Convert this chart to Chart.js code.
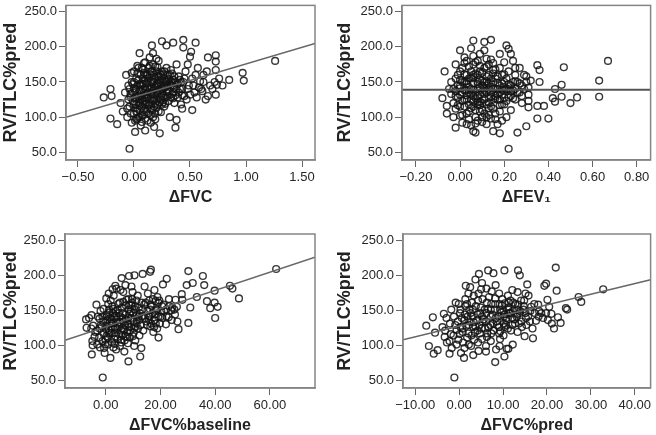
<!DOCTYPE html>
<html>
<head>
<meta charset="utf-8">
<script src="https://cdn.jsdelivr.net/npm/chart.js@4.4.0/dist/chart.umd.min.js"></script>
<style>
  html, body { margin: 0; padding: 0; background: #fff; }
  #wrap { position: relative; width: 656px; height: 435px; }
  .panel { position: absolute; }
</style>
</head>
<body>
<div id="wrap">
  <div class="panel" style="left:0;top:0;width:328px;height:215px"><canvas id="c1"></canvas></div>
  <div class="panel" style="left:330px;top:0;width:326px;height:215px"><canvas id="c2"></canvas></div>
  <div class="panel" style="left:0;top:215px;width:328px;height:220px"><canvas id="c3"></canvas></div>
  <div class="panel" style="left:330px;top:215px;width:326px;height:220px"><canvas id="c4"></canvas></div>
</div>
<script>
// ---- data ----
const yTicks = [50, 100, 150, 200, 250];
const yRange = [39, 259];

// RV/TLC%pred vs ΔFVC
const fvcTicks = [-0.5, 0, 0.5, 1.0, 1.5];
const fvcRange = [-0.607, 1.616];
const fvcFit = [128.4, 47.3]; // intercept, slope
const fvcPts = [
  [-0.04,55],[1.26,180],[0.97,163],[0.98,152],[0.85,153],[0.73,188],[0.73,179],[0.73,167],[0.73,132],[0.74,146],
  [0.76,155],[0.66,185],[0.55,206],[0.44,210],[0.35,206],[0.44,199],[0.25,208],[0.29,202],[0.51,193],[0.50,186],
  [0.52,110],[0.43,112],[0.38,96],[0.37,85],[0.23,77],[0.18,86],[0.10,81],[0.01,79],[-0.27,128],[-0.21,140],
  [-0.20,130],[-0.21,98],[-0.15,90],[-0.07,160],[0.05,191],[0.16,202],[0.17,191],[0.59,151],[0.61,137],[0.66,130],
  [0.79,145],[0.70,140],[0.62,160],[0.57,170],[0.48,175],
  [-0.12,120],[-0.10,108],[-0.08,135],[-0.06,100],[-0.05,145],[-0.04,115],[-0.03,128],[-0.02,92],[0.00,150],[0.00,105],
  [0.01,138],[0.02,118],[0.03,162],[0.03,98],[0.04,130],[0.05,110],[0.06,145],[0.06,88],[0.07,170],[0.07,125],
  [0.08,155],[0.08,103],[0.09,135],[0.10,178],[0.10,118],[0.11,148],[0.12,95],[0.12,160],[0.13,128],[0.14,140],
  [0.14,185],[0.15,112],[0.16,165],[0.16,150],[0.17,100],[0.18,132],[0.19,172],[0.19,120],[0.20,145],[0.21,158],
  [0.22,108],[0.22,180],[0.23,138],[0.24,125],[0.25,165],[0.26,150],[0.27,115],[0.28,142],[0.29,170],[0.30,130],
  [0.31,155],[0.32,100],[0.33,145],[0.34,162],[0.35,135],[0.36,120],[0.37,150],[0.38,175],[0.39,128],[0.40,158],
  [0.41,140],[0.42,118],[0.44,150],[0.45,130],[0.46,165],[0.47,125],[0.49,145],[0.52,155],[0.54,135],[0.56,128],
  [0.58,142],[0.62,150],[0.64,125],
  [0.02,140],[0.05,125],[0.08,140],[0.10,160],[0.12,112],[0.15,150],[0.18,160],[0.20,125],[0.24,145],[0.27,155],
  [0.03,112],[0.09,152],[0.13,170],[0.17,138],[0.21,132],[0.26,140],[0.30,160],[0.33,150],[0.11,132],[-0.01,122],
  [0.06,160],[0.04,100],[0.15,92],[0.19,105],[0.23,162],[0.28,128],
  [-0.06,112],[-0.05,125],[-0.04,140],[-0.03,105],[-0.02,150],[-0.01,135],[0.00,118],[0.00,165],[0.01,128],[0.01,95],
  [0.02,108],[0.02,155],[0.03,145],[0.04,120],[0.04,170],[0.05,138],[0.05,100],[0.06,130],[0.07,115],[0.07,148],
  [0.08,122],[0.08,168],[0.09,110],[0.09,128],[0.10,140],[0.10,98],[0.11,160],[0.11,120],[0.12,150],[0.12,135],
  [0.13,105],[0.13,155],[0.14,118],[0.15,165],[0.15,135],[0.16,125],[0.16,110],[0.17,175],[0.17,150],[0.18,140],
  [0.18,115],[0.19,155],[0.20,165],[0.20,135],[0.21,148],[0.21,118],[0.22,158],[0.23,150],[0.23,128],[0.24,160],
  [0.25,140],[0.25,118],[0.26,130],[0.27,165],[0.28,150],[0.29,135],[0.30,145],[0.31,138],[0.32,160],[0.33,128],
  [0.34,150],[0.35,145],[0.36,158],[0.38,140],[0.40,135],[0.42,150],[0.43,140],[0.45,155],[0.48,140],[0.50,132],
  [0.53,145],[0.55,160],[0.60,140],[0.68,145],[0.72,150],[0.65,165],
  [-0.03,133],[-0.01,147],[0.01,113],[0.02,127],[0.04,153],[0.05,117],[0.06,137],[0.07,103],[0.08,147],[0.09,163],
  [0.11,127],[0.12,141],[0.13,117],[0.14,161],[0.15,143],[0.16,133],[0.17,123],[0.18,153],[0.19,143],[0.20,113],
  [0.21,171],[0.22,137],[0.23,121],[0.24,153],[0.25,133],[0.26,161],[0.27,143],[0.28,119],[0.29,151],[0.30,137],
  [0.31,123],[0.32,147],[0.33,167],[0.34,133],[0.35,153],[0.36,141],[0.37,131],[0.39,147],[0.41,153],[0.43,131],
  [0.02,97],[0.07,93],[0.11,107],[0.15,103],[0.19,97],[0.24,107],[0.03,173],[0.09,177],[0.14,173],[0.20,183],
  [-0.02,163],[0.00,141],[0.05,147],[0.10,123],[0.16,141],[0.18,127],[0.22,147],[0.26,121],[0.30,153],[0.35,127]
];

// RV/TLC%pred vs ΔFEV1
const fev1Ticks = [-0.2, 0, 0.2, 0.4, 0.6, 0.8];
const fev1Range = [-0.263, 0.863];
const fev1Fit = [139, 0];
const fev1Pts = [
  [0.67,180],[0.63,152],[0.63,129],[0.53,128],[0.50,120],[0.47,171],[0.46,146],[0.46,129],[0.43,140],[0.42,127],
  [0.43,122],[0.40,98],[0.35,98],[0.38,116],[0.35,174],[0.36,167],[0.36,150],[0.35,116],[0.30,87],[0.26,78],
  [0.22,55],[0.21,202],[0.22,197],[0.14,210],[0.06,209],[0.11,207],[-0.07,165],[-0.08,127],[-0.06,116],[-0.06,105],
  [-0.02,85],[0.06,80],[0.07,78],[0.15,80],[0.18,77],[0.31,114],[0.31,123],[0.31,132],[0.31,142],[0.30,158],
  [0.27,170],[0.32,152],[0.28,120],[0.25,160],[0.24,180],[0.20,178],
  [-0.05,140],[-0.04,150],[-0.03,100],[-0.02,130],[-0.01,160],[0.00,115],[0.00,145],[0.01,92],[0.01,170],[0.02,125],
  [0.02,185],[0.03,138],[0.03,105],[0.04,155],[0.04,118],[0.05,165],[0.05,88],[0.06,130],[0.06,148],[0.07,178],
  [0.07,110],[0.08,140],[0.08,160],[0.08,95],[0.09,122],[0.09,190],[0.10,152],[0.10,135],[0.11,105],[0.11,170],
  [0.12,145],[0.12,118],[0.13,160],[0.13,128],[0.14,98],[0.14,182],[0.15,140],[0.15,112],[0.16,155],[0.16,168],
  [0.17,125],[0.17,90],[0.18,145],[0.18,108],[0.19,160],[0.19,132],[0.20,150],[0.20,118],[0.21,140],[0.21,100],
  [0.22,165],[0.22,128],[0.23,145],[0.23,110],[0.24,138],[0.25,125],[0.26,150],[0.27,135],[0.28,145],[0.29,140],
  [0.02,150],[0.04,135],[0.06,115],[0.07,162],[0.09,142],[0.10,120],[0.11,150],[0.12,172],[0.13,140],[0.14,155],
  [0.05,125],[0.08,130],[0.10,100],[0.12,135],[0.15,125],[0.03,160],[0.06,175],[0.09,108],[0.13,113],[0.16,140],
  [0.00,132],[-0.03,120],[0.18,125],[0.11,195],[0.05,198],[0.00,195],
  [-0.03,140],[-0.02,155],[-0.02,112],[-0.01,128],[-0.01,145],[0.00,165],[0.00,102],[0.01,135],[0.01,150],[0.02,115],
  [0.02,138],[0.03,148],[0.03,125],[0.04,172],[0.04,108],[0.05,140],[0.05,155],[0.06,122],[0.06,160],[0.07,135],
  [0.07,100],[0.08,150],[0.08,118],[0.09,165],[0.09,132],[0.10,145],[0.10,110],[0.11,138],[0.11,125],[0.12,158],
  [0.12,100],[0.13,148],[0.13,175],[0.14,135],[0.14,115],[0.15,162],[0.15,150],[0.16,130],[0.16,105],[0.17,140],
  [0.17,158],[0.18,135],[0.18,170],[0.19,118],[0.19,148],[0.20,138],[0.20,128],[0.21,155],[0.22,140],[0.23,130],
  [0.24,150],[0.25,140],[0.26,135],[0.27,148],[0.28,130],[0.30,150],[0.29,160],[0.25,170],[0.23,190],[0.18,190],
  [0.08,180],[0.03,180],[-0.02,175],[0.12,90],[0.03,90],[0.19,95],
  [-0.02,137],[-0.01,117],[0.00,153],[0.01,123],[0.02,161],[0.03,131],[0.04,143],[0.05,113],[0.06,157],[0.07,127],
  [0.08,147],[0.09,117],[0.10,163],[0.11,133],[0.12,151],[0.13,121],[0.14,143],[0.15,167],[0.16,127],[0.17,149],
  [0.18,117],[0.19,139],[0.20,161],[0.21,123],[0.22,147],[0.23,137],[0.24,127],[0.25,151],[0.01,103],[0.04,97],
  [0.07,91],[0.10,93],[0.13,103],[0.16,97],[0.02,177],[0.06,187],[0.09,173],[0.12,183],[0.15,177],[-0.04,133],
  [0.00,141],[0.03,151],[0.06,139],[0.09,153],[0.11,141],[0.14,129],[0.17,133],[0.20,143],[0.05,133],[0.08,121]
];

// RV/TLC%pred vs ΔFVC%baseline
const baseTicks = [0, 20, 40, 60];
const baseRange = [-14.9, 76.5];
const baseFit = [126.4, 1.30];
const basePts = [
  [62.3,209],[48.7,167],[46.3,181],[45.4,185],[40.9,155],[39.8,161],[40,139],[39.8,178],[38.2,153],[37,163],
  [35.5,199],[36,186],[33.3,169],[31.8,189],[30.2,206],[29.6,186],[30.9,154],[30.2,132],[27.8,173],[26.6,123],
  [22.3,195],[20.9,187],[19.3,111],[16.5,208],[13.5,202],[13,96],[12.6,84],[8.3,77],[-1.1,54],[-7.2,137],
  [-4.8,100],[-5.1,87],[-7,125],[16.2,205],[10.5,200],[8.5,199],[5.8,196],[3.5,185],[2.5,180],[25.5,165],
  [26,155],[28,165],[24,150],[23,140],[22,130],
  [-5.2,143],[-4.6,128],[-4.1,112],[-3.4,158],[-3.2,121],[-2.3,138],[-2.1,97],[-1.4,127],[-0.8,152],[-1.2,106],
  [0.3,113],[0.6,136],[0.2,167],[-0.4,89],[1.3,147],[1.1,122],[0.8,101],[2.4,156],[2.2,131],[1.7,82],
  [3.1,109],[3.3,142],[2.9,171],[4.2,124],[3.8,94],[4.4,151],[5.3,133],[4.9,116],[5.1,161],[6.2,146],
  [5.7,104],[6.4,176],[7.1,129],[7.4,157],[6.8,91],[8.2,139],[7.8,119],[8.3,166],[9.1,148],[8.8,111],
  [9.4,184],[10.2,134],[9.7,161],[10.4,99],[11.3,143],[10.9,126],[12.1,154],[11.7,171],[12.3,114],[13.2,141],
  [12.8,129],[14.1,158],[13.7,121],[15.2,149],[14.8,134],[15.4,174],[16.3,127],[15.9,164],[17.1,146],[16.8,156],
  [17.4,119],[18.2,163],[17.9,136],[18.6,151],[19.2,141],[18.9,169],[20.3,149],[19.8,131],[21.2,158],[20.7,139],
  [22.1,151],[23.2,156],[24.1,136],[25.3,144],[26.2,134],
  [-0.7,116],[0.1,123],[1.4,133],[2.3,104],[1.9,117],[3.4,126],[4.1,137],[5.2,99],[6.3,124],[7.2,113],
  [8.4,151],[9.2,127],[10.1,146],[11.2,164],[2.8,97],[0.9,159],[5.4,179],[8.1,103],[10.8,107],[13.4,151],
  [16.1,141],[18.8,124],[-1.8,129],[-0.2,101],[6.1,139],[12.2,136],
  [-3.8,119],[-2.9,141],[-3.1,101],[-1.9,149],[-2.4,111],[-0.9,134],[-0.6,96],[0.4,144],[0.2,128],[-0.1,108],
  [1.2,151],[0.7,111],[1.6,139],[2.1,124],[2.6,146],[1.8,164],[3.2,118],[2.7,132],[3.6,149],[4.3,109],
  [3.9,142],[4.6,159],[5.1,127],[4.8,146],[5.6,108],[6.4,134],[5.9,154],[6.2,115],[7.3,144],[6.7,122],
  [7.6,165],[8.1,131],[7.9,112],[8.6,158],[9.3,139],[8.9,121],[9.6,166],[10.3,124],[10.6,151],[9.9,113],
  [11.4,136],[10.7,156],[12.4,146],[11.8,124],[13.1,161],[14.3,139],[15.1,129],[14.6,161],[16.2,151],[15.7,136],
  [17.3,166],[16.6,131],[18.1,144],[17.7,126],[19.3,161],[18.4,149],[20.1,141],[19.6,164],[21.3,149],[22.2,141],
  [23.1,166],[24.3,154],[25.1,151],[-5.3,124],[-4.9,106],[-6.1,139],[1.1,174],[3.9,181],[7.2,186],[9.8,176],
  [14.2,184],[17.8,179],
  [0.4,141],[1.3,118],[2.2,137],[3.3,102],[4.2,131],[5.3,141],[6.4,162],[7.3,137],[8.4,126],[9.3,157],
  [10.2,118],[11.3,131],[-1.2,141],[-2.3,124],[2.7,152],[5.7,121],[8.7,145],[3.6,113],[6.9,107],[11.9,141],
  [16.4,158],[18.3,131],[20.6,156],[15.6,142]
];

// RV/TLC%pred vs ΔFVC%pred
const predTicks = [-10, 0, 10, 20, 30, 40];
const predRange = [-12.8, 43.6];
const predFit = [127.5, 1.52];
const predPts = [
  [32.8,180],[27.2,169],[27.8,162],[24.3,153],[24.6,151],[22,211],[22.2,178],[21.6,124],[23.1,132],[19.8,188],
  [19.4,185],[16.8,110],[14.9,113],[13.8,200],[13.4,207],[15.5,187],[10.3,207],[7.8,203],[6.6,207],[8.2,76],
  [10.3,84],[10.8,95],[11.2,95],[-1.1,54],[-7.5,128],[-6.9,99],[-5.8,88],[-4.9,93],[-2.2,88],[3.7,194],
  [18.7,146],[20.1,165],[19.8,146],[-6,140],[-5.5,118],[-3.5,145],[4.5,202],[5,180],[2.5,183],[1.5,185],
  [20.5,155],[21,145],[22.5,140],[17.5,135],[18,158],
  [-3.2,121],[-2.8,104],[-2.1,131],[-1.7,96],[-0.8,161],[-1.3,114],[-0.6,101],[0.3,126],[0.2,146],[-0.2,108],
  [0.4,89],[1.2,136],[0.8,119],[1.4,166],[1.1,82],[2.3,151],[1.8,111],[2.2,129],[3.1,141],[2.7,99],
  [3.3,171],[4.2,121],[3.8,156],[4.4,92],[5.3,134],[4.8,146],[5.2,109],[6.3,161],[5.9,124],[6.1,99],
  [7.2,141],[6.8,169],[7.3,117],[8.1,151],[7.7,131],[8.4,94],[9.2,159],[8.9,141],[9.3,109],[10.1,149],
  [9.8,166],[10.3,126],[11.2,154],[10.7,136],[11.4,146],[12.3,161],[11.8,121],[12.1,139],[13.2,151],[12.7,131],
  [14.1,164],[13.8,146],[14.3,126],[15.2,139],[14.7,156],[16.1,134],[15.8,171],[17.2,146],[16.7,124],[18.1,141],
  [13.3,176],[11.1,171],[2.9,161],[-0.1,159],[6.2,181],[8.3,186],
  [2.1,117],[3.2,126],[4.1,136],[5.1,124],[6.2,146],[7.1,129],[9.1,126],[10.2,141],[11.3,161],[12.2,149],
  [0.9,104],[-1.9,116],[4.3,104],[7.2,106],[13.1,141],[15.3,129],[8.2,167],[1.9,141],[4.9,154],[10.1,114],
  [-3.8,126],[-2.9,139],[-3.3,112],[-1.8,151],[-0.9,129],[-1.2,141],[0.1,116],[-0.3,134],[0.3,151],[1.3,144],
  [0.7,124],[1.2,96],[2.3,134],[1.8,159],[2.2,101],[2.8,114],[3.3,133],[3.1,151],[4.2,144],[3.7,127],
  [4.3,164],[5.2,141],[4.7,117],[5.3,166],[6.1,134],[5.8,151],[6.3,112],[7.3,159],[6.7,126],[7.2,151],
  [8.3,139],[7.8,121],[8.2,159],[9.3,151],[8.7,129],[9.1,117],[10.2,131],[9.7,157],[10.3,144],[11.1,124],
  [10.8,139],[11.3,151],[12.1,129],[11.7,164],[13.2,144],[12.8,159],[13.3,119],[14.2,134],[13.9,149],[15.1,146],
  [14.8,164],[16.2,149],[15.7,141],[17.1,159],[18.2,149],[19.1,139],[20.2,136],[21.1,131],[12.2,101],[9.2,99],
  [6.1,91],[3.2,86],[2.1,174],[5.2,189],[9.1,174],[12.1,179],[15.1,174],[-2.2,106],
  [0.6,139],[1.6,128],[2.6,146],[3.6,119],[4.6,129],[5.6,137],[6.6,152],[7.6,144],[8.6,134],[9.6,147],
  [10.6,129],[11.6,146],[12.6,137],[13.6,131],[14.6,151],[3.4,108],[6.4,117],[9.4,120],[-0.6,122],[1.4,156],
  [4.4,174],[7.4,177],[10.4,160],[13.4,158],[16.4,155]
];

// ---- drawing ----
const FONT = "'Liberation Sans', Arial, Helvetica, sans-serif";

function fmt(v, d) {
  if (Math.abs(v) < 1e-9) return (0).toFixed(d);
  return v < 0 ? '\u2212' + Math.abs(v).toFixed(d) : v.toFixed(d);
}

// grey box round the plot area
const framePlugin = {
  id: 'frame',
  afterDraw(chart) {
    const a = chart.chartArea;
    const ctx = chart.ctx;
    ctx.save();
    ctx.strokeStyle = '#858585';
    ctx.lineWidth = 1.5;
    ctx.strokeRect(a.left, a.top, a.right - a.left, a.bottom - a.top);
    ctx.restore();
  }
};

function makePanel(canvasId, pts, xRange, xTicks, xLabel, fit, box) {
  const ctx = document.getElementById(canvasId).getContext('2d');
  const lineData = xRange.map(x => ({ x: x, y: fit[0] + fit[1] * x }));

  return new Chart(ctx, {
    type: 'scatter',
    data: {
      datasets: [
        {
          type: 'line',
          data: lineData,
          borderColor: fit[1] === 0 ? '#555' : '#666',
          borderWidth: fit[1] === 0 ? 2 : 1.5,
          pointRadius: 0,
          fill: false
        },
        {
          data: pts.map(p => ({ x: p[0], y: p[1] })),
          pointRadius: 3.4,
          pointBorderWidth: 1.4,
          pointBorderColor: 'rgba(20,20,20,0.85)',
          pointBackgroundColor: 'rgba(0,0,0,0)'
        }
      ]
    },
    options: {
      responsive: true,
      maintainAspectRatio: false,
      animation: false,
      devicePixelRatio: 1,
      layout: { padding: { top: box.top, right: box.right, left: 0, bottom: 0 } },
      plugins: { legend: { display: false }, tooltip: { enabled: false } },
      scales: {
        x: {
          type: 'linear',
          min: xRange[0],
          max: xRange[1],
          afterBuildTicks: s => { s.ticks = xTicks.map(v => ({ value: v })); },
          afterFit: s => { s.height = box.xh; s.paddingLeft = 0; s.paddingRight = 0; },
          ticks: {
            callback: v => fmt(v, 2),
            color: '#262626',
            font: { family: FONT, size: 13 },
            padding: 3,
            maxRotation: 0,
            autoSkip: false
          },
          grid: { display: true, drawOnChartArea: false, drawTicks: true, tickLength: 7, color: '#666' },
          border: { display: true, color: '#858585', width: 1.5 },
          title: {
            display: true,
            text: xLabel,
            color: '#222',
            font: { family: FONT, size: 16, weight: 'bold' },
            padding: { top: 0, bottom: box.tb }
          }
        },
        y: {
          type: 'linear',
          min: yRange[0],
          max: yRange[1],
          afterBuildTicks: s => { s.ticks = yTicks.map(v => ({ value: v })); },
          afterFit: s => { s.width = box.yw; s.paddingTop = 0; s.paddingBottom = 0; },
          ticks: {
            callback: v => fmt(v, 1),
            color: '#262626',
            font: { family: FONT, size: 13 },
            padding: 2
          },
          grid: { display: true, drawOnChartArea: false, drawTicks: true, tickLength: 7, color: '#666' },
          border: { display: true, color: '#858585', width: 1.5 },
          title: {
            display: true,
            text: 'RV/TLC%pred',
            color: '#222',
            font: { family: FONT, size: 18, weight: 'bold' },
            padding: { top: box.tl, bottom: 0 }
          }
        }
      }
    },
    plugins: [framePlugin]
  });
}

makePanel('c1', fvcPts, fvcRange, fvcTicks, '\u0394FVC', fvcFit,
  { top: 3, right: 13, yw: 66, xh: 55, tb: 8, tl: 0 });
makePanel('c2', fev1Pts, fev1Range, fev1Ticks, '\u0394FEV\u2081', fev1Fit,
  { top: 3, right: 3, yw: 72, xh: 55, tb: 8, tl: 4 });
makePanel('c3', basePts, baseRange, baseTicks, '\u0394FVC%baseline', baseFit,
  { top: 19, right: 13, yw: 65, xh: 47, tb: 0, tl: 0 });
makePanel('c4', predPts, predRange, predTicks, '\u0394FVC%pred', predFit,
  { top: 19, right: 1, yw: 73, xh: 47, tb: 0, tl: 4 });
</script>
</body>
</html>
